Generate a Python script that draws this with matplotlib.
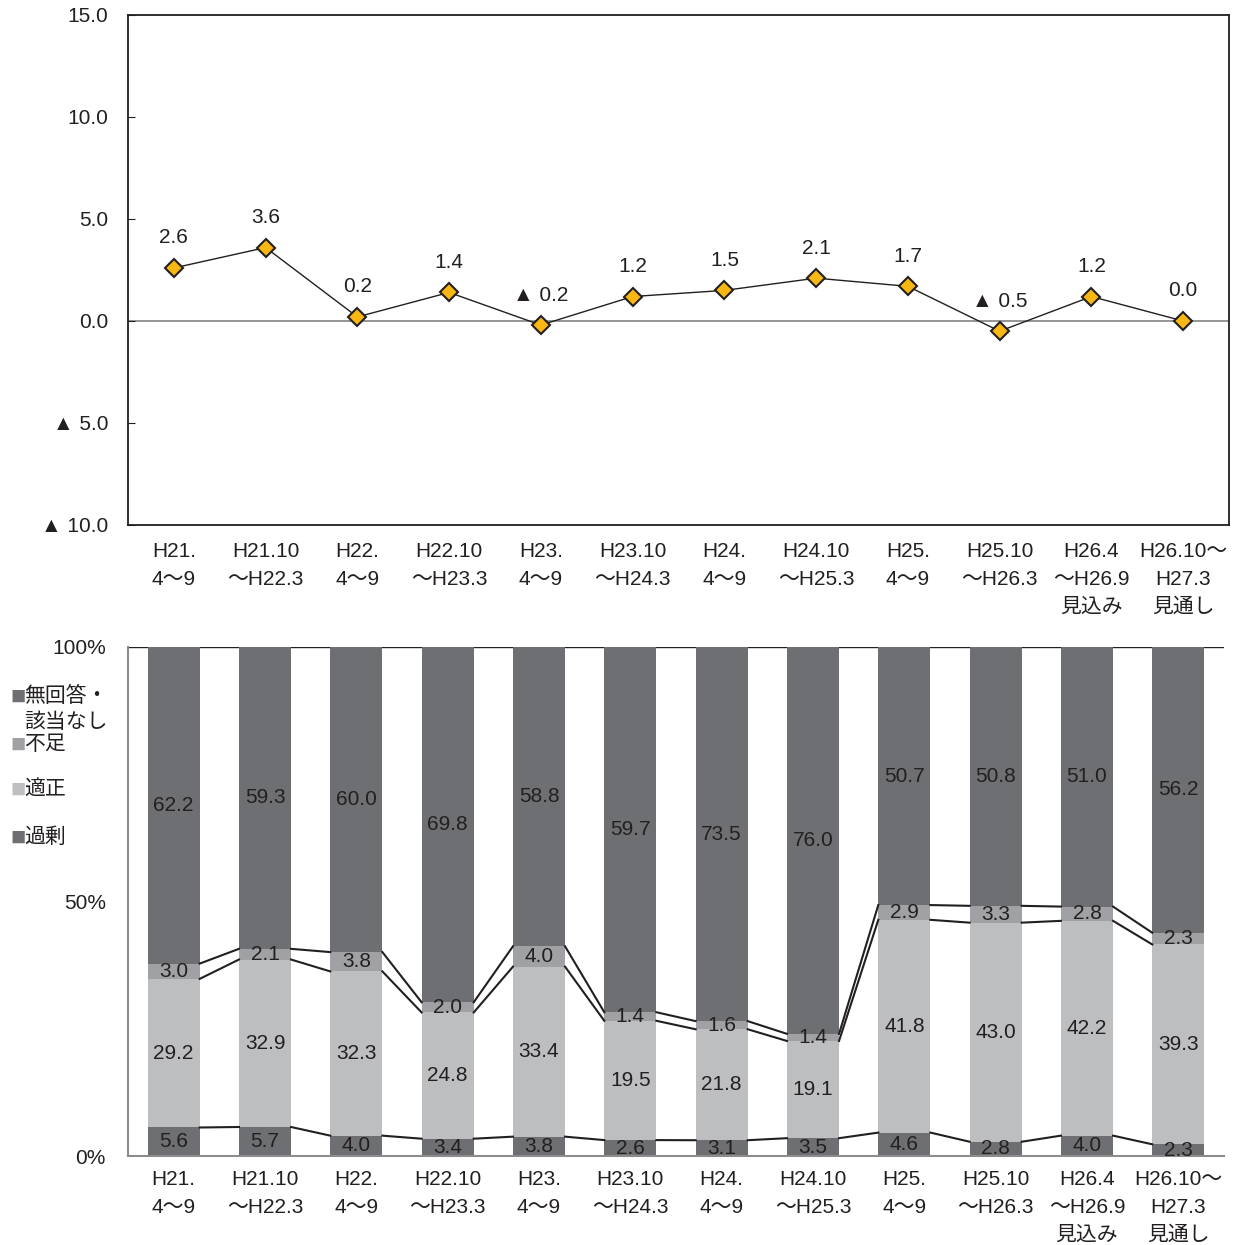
import numpy as np
import matplotlib
matplotlib.use('Agg')
import matplotlib.pyplot as plt

plt.rcParams['font.family'] = ['Liberation Sans', 'Noto Sans CJK JP', 'DejaVu Sans']

# 期間ラベル
periods = ['H21.\n4～9', 'H21.10\n～H22.3', 'H22.\n4～9', 'H22.10\n～H23.3',
           'H23.\n4～9', 'H23.10\n～H24.3', 'H24.\n4～9', 'H24.10\n～H25.3',
           'H25.\n4～9', 'H25.10\n～H26.3', 'H26.4\n～H26.9\n見込み', 'H26.10～\nH27.3\n見通し']

# 上段: DI値
di_values = [2.6, 3.6, 0.2, 1.4, -0.2, 1.2, 1.5, 2.1, 1.7, -0.5, 1.2, 0.0]

# 下段: 構成比 (%)
kajo = [5.6, 5.7, 4.0, 3.4, 3.8, 2.6, 3.1, 3.5, 4.6, 2.8, 4.0, 2.3]
tekisei = [29.2, 32.9, 32.3, 24.8, 33.4, 19.5, 21.8, 19.1, 41.8, 43.0, 42.2, 39.3]
fusoku = [3.0, 2.1, 3.8, 2.0, 4.0, 1.4, 1.6, 1.4, 2.9, 3.3, 2.8, 2.3]
mukaito = [62.2, 59.3, 60.0, 69.8, 58.8, 59.7, 73.5, 76.0, 50.7, 50.8, 51.0, 56.2]

series_names = ['過剰', '適正', '不足', '無回答・\n該当なし']
colors = ['#6e6f72', '#bdbec0', '#a0a1a4', '#6e6f73']
text_color = '#231f20'
FS = 15


def fmt_tri(v):
    if v < 0:
        return f'▲ {abs(v):.1f}'
    return f'{v:.1f}'


fig = plt.figure(figsize=(12.33, 12.45), dpi=100)

# ---- 上段 折れ線 ----
ax1 = fig.add_axes([128 / 1233, 1 - 525 / 1245, (1229 - 128) / 1233, (525 - 15) / 1245])
x = np.arange(len(periods))
ax1.axhline(0, color='#8c8c8c', lw=1.3, zorder=1)
ax1.plot(x, di_values, color='#231f20', lw=1.0, marker='D', markersize=9,
         markerfacecolor='#f8b712', markeredgecolor='#231f20', markeredgewidth=1.5, zorder=3)
for xi, v in zip(x, di_values):
    ax1.annotate(fmt_tri(v), (xi, v), xytext=(0, 21.6), textcoords='offset points',
                 ha='center', va='center', fontsize=FS, color=text_color)
ax1.set_xlim(-0.5, len(periods) - 0.5)
ax1.set_ylim(-10, 15)
yt = [-10, -5, 0, 5, 10, 15]
ax1.set_yticks(yt)
ax1.set_yticklabels([fmt_tri(v) for v in yt], fontsize=FS, color=text_color)
ax1.set_xticks(x)
ax1.set_xticklabels(periods, fontsize=FS, color=text_color, linespacing=1.6)
ax1.tick_params(axis='x', length=0, pad=12)
ax1.tick_params(axis='y', direction='in', length=5, pad=14, color='#231f20')
for s in ax1.spines.values():
    s.set_color('#231f20')
    s.set_linewidth(1.3)

# ---- 下段 積み上げ棒 (100%積み上げ) ----
ax2 = fig.add_axes([128 / 1233, 1 - 1156 / 1245, (1224 - 128) / 1233, (1156 - 647) / 1245])
data = [np.array(d) for d in (kajo, tekisei, fusoku, mukaito)]
total = sum(data)
width = 0.57
bottom = np.zeros(len(periods))
tops = []
for vals, c in zip(data, colors):
    share = vals / total * 100
    ax2.bar(x, share, width, bottom=bottom, color=c, zorder=2)
    for xi, b, s, v in zip(x, bottom, share, vals):
        ax2.text(xi, b + s / 2, f'{v:.1f}', ha='center', va='center',
                 fontsize=FS, color=text_color, zorder=4)
    bottom = bottom + share
    tops.append(bottom.copy())

# 区分線
for cum in tops[:3]:
    for i in range(len(periods) - 1):
        ax2.plot([x[i] + width / 2, x[i + 1] - width / 2], [cum[i], cum[i + 1]],
                 color='#231f20', lw=1.5, zorder=3)

ax2.axhline(100, color='#231f20', lw=1.0, zorder=1)
ax2.set_xlim(-0.5, len(periods) - 0.5)
ax2.set_ylim(0, 100)
ax2.set_yticks([0, 50, 100])
ax2.set_yticklabels(['0%', '50%', '100%'], fontsize=FS, color=text_color)
ax2.set_xticks(x)
ax2.set_xticklabels(periods, fontsize=FS, color=text_color, linespacing=1.6)
ax2.tick_params(axis='x', length=0, pad=10)
ax2.tick_params(axis='y', length=0, pad=16)
ax2.spines['top'].set_visible(False)
ax2.spines['right'].set_visible(False)
ax2.spines['left'].set_color('#8c8c8c')
ax2.spines['bottom'].set_color('#8c8c8c')
ax2.spines['left'].set_linewidth(1.5)
ax2.spines['bottom'].set_linewidth(1.5)

# 凡例
legend_y = [697, 745, 790, 838]
for name, c, yy in zip(series_names[::-1], colors[::-1], legend_y):
    fig.text(10 / 1233, 1 - yy / 1245, '■', color=c, fontsize=11, va='center', ha='left',
             family=['Noto Sans CJK JP'])
    fig.text(24 / 1233, 1 - (yy - 12) / 1245, name, color=text_color, fontsize=15, va='top',
             ha='left', linespacing=1.25, family=['Noto Sans CJK JP'])

fig.savefig('out.png', dpi=100)
